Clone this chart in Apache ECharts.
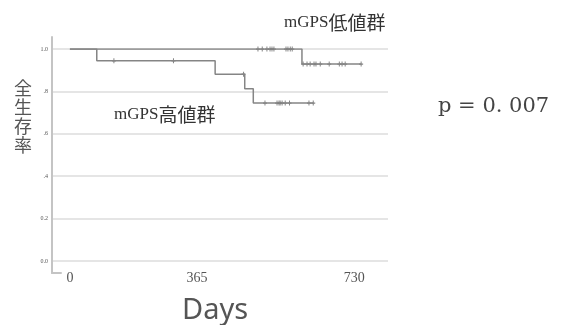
<!DOCTYPE html>
<html><head><meta charset="utf-8">
<script src="https://cdn.jsdelivr.net/npm/echarts@6/dist/echarts.min.js"></script>
<style>html,body{margin:0;padding:0;background:#fff}#c{width:563px;height:325px}</style>
</head><body><div id="c"></div>
<script>
// ---- data ----
const dayTicks = [0, 365, 730];
const survTickLabels = ['0.0', '0.2', '.4', '.6', '.8', '1.0'];
const highEventDays = [0, 69, 373, 449, 471];
const highSurv = [1.0, 0.944, 0.881, 0.813, 0.745];
const highEndDay = 625;
const highCensorDays = [113, 266, 446, 501, 532, 537, 540, 545, 553, 564, 614, 625];
const lowEventDays = [0, 596];
const lowSurv = [1.0, 0.929];
const lowEndDay = 748;
const lowCensorDays = [483, 494, 506, 514, 519, 524, 555, 560, 566, 571, 599, 609, 617, 627, 632, 643, 666, 692, 699, 707, 748];
const lowLabel = ['mGPS', '低値群'];
const highLabel = ['mGPS', '高値群'];
const pText = 'p = 0. 007';
const xTitle = 'Days';
const yTitle = '全生存率';

function stepData(days, surv, end) {
  const d = days.map((t, i) => [t, surv[i]]);
  d.push([end, surv[surv.length - 1]]);
  return d;
}
function survAt(days, surv, t) {
  let s = surv[0];
  for (let i = 0; i < days.length; i++) if (days[i] <= t) s = surv[i];
  return s;
}
const plus = 'path://M1.5,0H2.5V1.5H4V2.5H2.5V4H1.5V2.5H0V1.5H1.5Z';
const lineCol = '#858585';
const labelRich = {
  a: {fontFamily: 'Liberation Serif', fontSize: 17, color: '#333', fontWeight: 'normal'},
  b: {fontFamily: 'Noto Sans CJK JP', fontSize: 19, color: '#333', fontWeight: 'normal'}
};

const chart = echarts.init(document.getElementById('c'), null, {renderer: 'canvas'});
chart.setOption({
  animation: false,
  backgroundColor: '#fff',
  grid: [
    {left: 52, right: 175, top: 49, bottom: 64},
    {left: 52, width: 9, top: 37, bottom: 52}
  ],
  xAxis: [
    {
      type: 'value', gridIndex: 0, min: -46, max: 817,
      axisLine: {show: false}, axisTick: {show: false}, splitLine: {show: false},
      axisLabel: {
        customValues: dayTicks, margin: 10,
        color: '#555', fontFamily: 'Liberation Serif', fontSize: 14,
        formatter: v => v === dayTicks[1] ? '{s|' + v + '}' : String(v),
        rich: {s: {color: '#555', fontFamily: 'Liberation Serif', fontSize: 14, padding: [0, 30, 0, 0]}}
      }
    },
    {
      type: 'value', gridIndex: 1, min: 0, max: 1,
      axisLine: {show: true, onZero: false, lineStyle: {color: '#c4c4c4', width: 2}},
      axisTick: {show: false}, axisLabel: {show: false}, splitLine: {show: false}
    }
  ],
  yAxis: [
    {
      type: 'value', gridIndex: 0, min: 0, max: 1, interval: 0.2,
      axisLine: {show: false}, axisTick: {show: false},
      splitLine: {show: true, lineStyle: {color: '#dcdcdc', width: 1.5}},
      axisLabel: {
        margin: 4, color: '#555', fontFamily: 'Liberation Serif', fontSize: 6,
        formatter: v => survTickLabels[Math.round(v / 0.2)]
      }
    },
    {
      type: 'value', gridIndex: 1, min: 0, max: 1,
      axisLine: {show: true, onZero: false, lineStyle: {color: '#c4c4c4', width: 2}},
      axisTick: {show: false}, axisLabel: {show: false}, splitLine: {show: false}
    }
  ],
  title: [
    {text: yTitle.split('').join('\n'), left: 14, top: 79, padding: 0,
     textStyle: {fontFamily: 'Noto Sans CJK JP', fontSize: 18, lineHeight: 19, fontWeight: 'normal', color: '#555'}},
    {text: xTitle, left: 182, top: 296, padding: 0,
     textStyle: {fontFamily: 'Noto Sans', fontSize: 29, fontWeight: 'normal', color: '#555'}},
    {text: pText, left: 438, top: 96, padding: 0,
     textStyle: {fontFamily: 'DejaVu Serif', fontSize: 21, fontWeight: 'normal', color: '#444'}},
    {text: '{a|' + lowLabel[0] + '}{b|' + lowLabel[1] + '}', left: 284, top: 13, padding: 0,
     textStyle: {rich: labelRich}},
    {text: '{a|' + highLabel[0] + '}{b|' + highLabel[1] + '}', left: 114, top: 105, padding: 0,
     textStyle: {rich: labelRich}}
  ],
  series: [
    {type: 'line', step: 'end', xAxisIndex: 0, yAxisIndex: 0, showSymbol: false,
     lineStyle: {color: lineCol, width: 1.5}, data: stepData(lowEventDays, lowSurv, lowEndDay)},
    {type: 'line', step: 'end', xAxisIndex: 0, yAxisIndex: 0, showSymbol: false,
     lineStyle: {color: lineCol, width: 1.5}, data: stepData(highEventDays, highSurv, highEndDay)},
    {type: 'scatter', xAxisIndex: 0, yAxisIndex: 0, symbol: plus, symbolSize: [4, 5],
     itemStyle: {color: '#666'}, data: lowCensorDays.map(t => [t, survAt(lowEventDays, lowSurv, t)])},
    {type: 'scatter', xAxisIndex: 0, yAxisIndex: 0, symbol: plus, symbolSize: [4, 5],
     itemStyle: {color: '#666'}, data: highCensorDays.map(t => [t, survAt(highEventDays, highSurv, t)])}
  ]
});
</script></body></html>
